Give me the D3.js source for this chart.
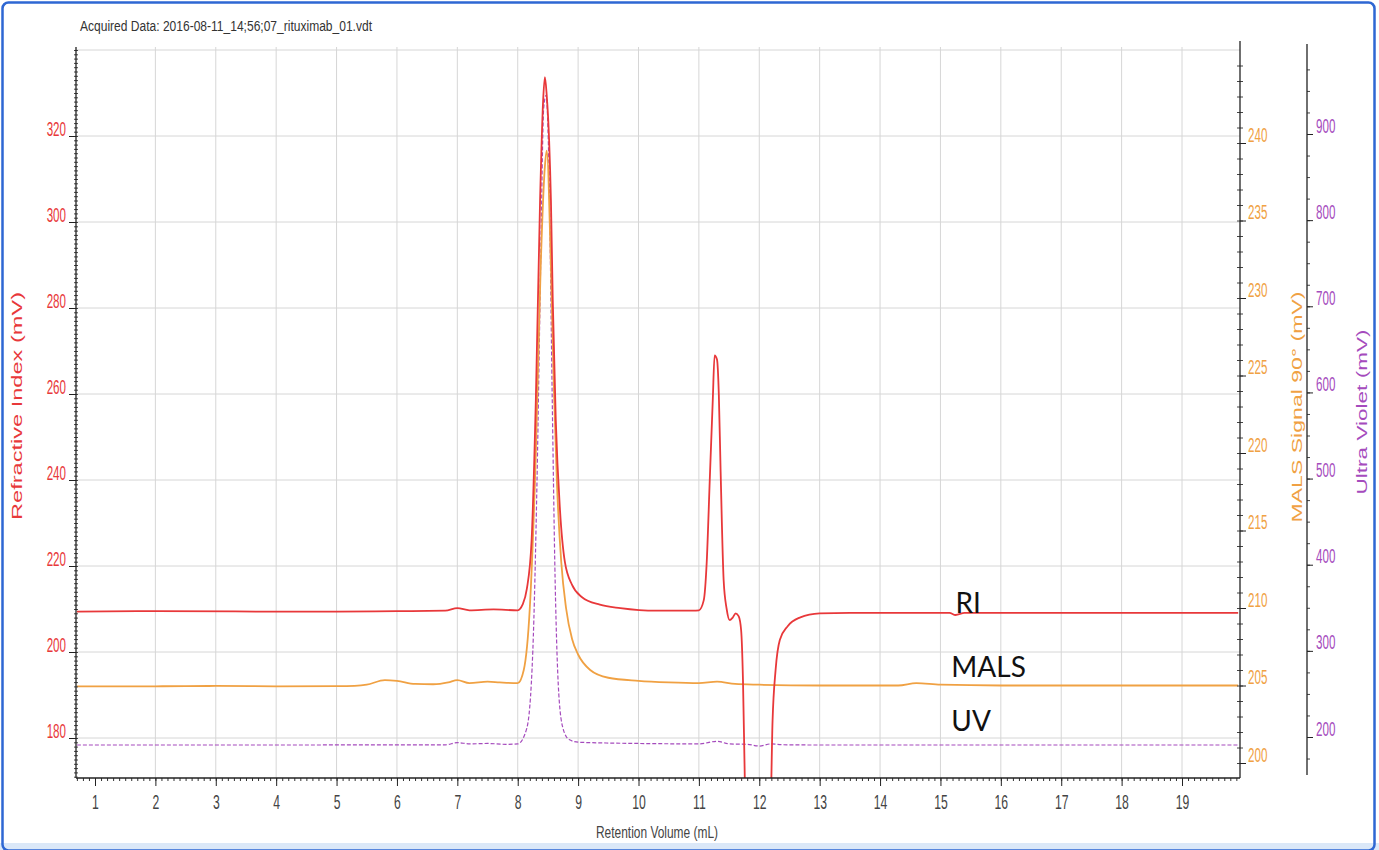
<!DOCTYPE html>
<html><head><meta charset="utf-8">
<script src="https://cdn.jsdelivr.net/npm/d3@7"></script>
<style>
body{margin:0;background:#fff;}
svg{display:block;}
</style></head>
<body>
<svg id="chart" width="1379" height="850"></svg>
<script>
// ---------- DATA ----------
const chartTitle = "Acquired Data: 2016-08-11_14;56;07_rituximab_01.vdt";
const xTicks = [1,2,3,4,5,6,7,8,9,10,11,12,13,14,15,16,17,18,19];
const riTicks = [180,200,220,240,260,280,300,320];
const malsTicks = [200,205,210,215,220,225,230,235,240];
const uvTicks = [200,300,400,500,600,700,800,900];

const riVolume = [0.7,2,4,5,6,6.8,7.0,7.2,7.6,8.0,8.08,8.15,8.23,8.3,8.37,8.42,8.45,8.48,8.52,8.55,8.58,8.63,8.7,8.78,8.9,9.06,9.36,9.7,10.3,10.9,11.0,11.08,11.13,11.18,11.23,11.26,11.3,11.33,11.36,11.41,11.46,11.51,11.56,11.61,11.66,11.7,11.73,11.76,11.8,12.0,12.18,12.22,12.27,12.34,12.47,12.67,13.0,13.5,14.5,15.15,15.25,15.4,17,19.93];
const riSignal = [209.4,209.5,209.4,209.4,209.5,209.6,210.2,209.7,209.9,209.7,211,214.6,226,258.6,305,328,333.7,329.5,319,305,282,254,233,221,215.6,212.8,211,210.2,209.6,209.6,209.7,212,221,240,258.6,269,268,260,242,216.7,210,207.4,208,209,208.3,205,193.5,170.7,150,150,160,184,195.8,202.8,206,208,209,209.1,209.1,209.1,208.6,209.1,209.1,209.1];

const malsVolume = [0.7,2,3,4,5,5.3,5.5,5.8,6.0,6.3,6.6,6.85,7.0,7.2,7.5,7.7,8.0,8.1,8.2,8.3,8.38,8.45,8.48,8.55,8.6,8.65,8.72,8.8,8.9,9.0,9.2,9.5,10,10.5,11.0,11.3,11.6,12,13,14.3,14.6,15,16,17,18,19.93];
const malsSignal = [204.95,204.95,204.97,204.95,204.96,204.98,205.05,205.35,205.3,205.1,205.08,205.2,205.35,205.15,205.25,205.2,205.15,206,210,220,232,238.5,239.5,232,224,218,213,210,208,207,206,205.5,205.3,205.2,205.15,205.25,205.1,205.05,205.0,205.0,205.15,205.05,205.0,205.0,205.0,205.0];

const uvVolume = [0.7,3,6.8,7.0,7.2,7.5,7.8,8.0,8.15,8.25,8.32,8.38,8.43,8.47,8.52,8.57,8.62,8.68,8.75,8.85,9.0,9.5,10,11.0,11.3,11.5,11.8,12.0,12.2,12.4,13,16,19.93];
const uvSignal = [190.7,190.7,190.9,193.5,192,192.5,191.5,192,210,300,500,750,930,945,850,600,380,250,210,197,194,193,192.5,192,195,192,191.5,189.5,192,191,190.7,190.7,190.7];

const seriesLabels = ["RI","MALS","UV"];

// ---------- LAYOUT ----------
const svg = d3.select("#chart");
const plot = {left:76, right:1240, top:47, bottom:778};
const uvAxisX = 1307;

const x = d3.scaleLinear().domain([1,19]).range([95,1182]);
const yRI = d3.scaleLinear().domain([180,320]).range([738,136]);
const yMALS = d3.scaleLinear().domain([200,240]).range([763,143]);
const yUV = d3.scaleLinear().domain([200,900]).range([737,134]);

const colRI = "#e8383a", colMALS = "#f0a143", colUV = "#a54bbd";
const sans = "'Liberation Sans',Arial,sans-serif";

function squeeze(sel, f){
  sel.each(function(){
    const w = this.getComputedTextLength();
    d3.select(this).attr("textLength", w*f).attr("lengthAdjust","spacingAndGlyphs");
  });
}
function fitTo(sel, len){
  sel.attr("textLength", len).attr("lengthAdjust","spacingAndGlyphs");
}

// frame
svg.append("rect").attr("x",0).attr("y",843).attr("width",1379).attr("height",7).attr("fill","#dbe8f8");
svg.append("rect").attr("x",2.5).attr("y",2.5).attr("width",1372).attr("height",848).attr("rx",6)
  .attr("fill","none").attr("stroke","#2e67d3").attr("stroke-width",2.5);

// title
svg.append("text").attr("x",80).attr("y",31).attr("font-family",sans)
  .attr("font-size",14).attr("fill","#333").text(chartTitle).call(fitTo,292);

// gridlines
const grid = svg.append("g").attr("stroke","#d6d6d6").attr("stroke-width",1);
xTicks.slice(1).forEach(v=>{
  grid.append("line").attr("x1",x(v)).attr("x2",x(v)).attr("y1",plot.top).attr("y2",plot.bottom);
});
[180,200,220,240,260,280,300,320,340].forEach(v=>{
  grid.append("line").attr("x1",plot.left).attr("x2",plot.right).attr("y1",yRI(v)).attr("y2",yRI(v));
});

// clip
svg.append("clipPath").attr("id","clip").append("rect")
  .attr("x",plot.left).attr("y",plot.top).attr("width",plot.right-plot.left).attr("height",plot.bottom-plot.top);

const lineGen = (ys) => d3.line().x(d=>x(d[0])).y(d=>ys(d[1])).curve(d3.curveMonotoneX);
const g = svg.append("g").attr("clip-path","url(#clip)");

g.append("path").datum(d3.zip(uvVolume,uvSignal)).attr("d",lineGen(yUV))
  .attr("fill","none").attr("stroke",colUV).attr("stroke-width",1.2).attr("stroke-dasharray","4,2");
g.append("path").datum(d3.zip(malsVolume,malsSignal)).attr("d",lineGen(yMALS))
  .attr("fill","none").attr("stroke",colMALS).attr("stroke-width",1.8);
g.append("path").datum(d3.zip(riVolume,riSignal)).attr("d",lineGen(yRI))
  .attr("fill","none").attr("stroke",colRI).attr("stroke-width",1.8);

// ---------- AXES ----------
function styleAxis(sel){ sel.select(".domain").attr("stroke","#222").attr("stroke-width",1.3); sel.selectAll(".tick line").attr("stroke","#222"); }

// X axis
const xMinor = d3.range(0.7,19.95,0.1).map(v=>+v.toFixed(2));
svg.append("g").attr("transform",`translate(0,${plot.bottom})`)
  .call(d3.axisBottom(x).tickValues(xMinor).tickSize(3).tickFormat("").tickSizeOuter(0))
  .call(s=>{s.select(".domain").remove(); s.selectAll(".tick line").attr("stroke","#333");});
const xAx = svg.append("g").attr("transform",`translate(0,${plot.bottom})`)
  .call(d3.axisBottom(x).tickValues(xTicks).tickSize(8).tickSizeOuter(0).tickPadding(8))
  .call(s=>s.select(".domain").attr("d",`M${plot.left},0H${plot.right}`));
styleAxis(xAx);
xAx.selectAll("text").attr("font-family",sans).attr("font-size",21).attr("fill","#444").call(squeeze,0.58);

svg.append("text").attr("x",657).attr("y",838).attr("text-anchor","middle").attr("font-family",sans)
  .attr("font-size",16).attr("fill","#444").text("Retention Volume (mL)").call(fitTo,122);

// Left RI axis
const riMinor = d3.range(171,341,1);
svg.append("g").attr("transform",`translate(${plot.left},0)`)
  .call(d3.axisLeft(yRI).tickValues(riMinor).tickSize(2).tickFormat("").tickSizeOuter(0))
  .call(s=>{s.select(".domain").remove(); s.selectAll(".tick line").attr("stroke","#444").attr("x2",2).attr("x1",-2);});
const riAx = svg.append("g").attr("transform",`translate(${plot.left},0)`)
  .call(d3.axisLeft(yRI).tickValues(riTicks).tickSize(7).tickSizeOuter(0).tickPadding(3))
  .call(s=>s.select(".domain").attr("d",`M0,${plot.top}V${plot.bottom}`));
styleAxis(riAx);
riAx.selectAll("text").attr("font-family",sans).attr("font-size",20).attr("fill",colRI).attr("dy","-0.05em").call(squeeze,0.58);

svg.append("text").attr("transform","translate(22,406) rotate(-90)").attr("text-anchor","middle")
  .attr("font-family",sans).attr("font-size",15).attr("fill",colRI)
  .text("Refractive Index (mV)").call(fitTo,228);

// Right MALS axis
const malsMinor = d3.range(199,246,1);
svg.append("g").attr("transform",`translate(${plot.right},0)`)
  .call(d3.axisRight(yMALS).tickValues(malsMinor.filter(v=>yMALS(v)>=plot.top && yMALS(v)<=plot.bottom)).tickSize(3).tickFormat("").tickSizeOuter(0))
  .call(s=>{s.select(".domain").remove(); s.selectAll(".tick line").attr("stroke","#444").attr("x1",-3);});
const malsAx = svg.append("g").attr("transform",`translate(${plot.right},0)`)
  .call(d3.axisRight(yMALS).tickValues(malsTicks).tickSize(6).tickSizeOuter(0).tickPadding(2))
  .call(s=>s.select(".domain").attr("d",`M0,${plot.top-6}V${plot.bottom}`));
styleAxis(malsAx);
malsAx.selectAll("text").attr("font-family",sans).attr("font-size",20).attr("fill",colMALS).attr("dy","-0.1em").call(squeeze,0.58);

svg.append("text").attr("transform","translate(1302,407) rotate(-90)").attr("text-anchor","middle")
  .attr("font-family",sans).attr("font-size",15).attr("fill",colMALS)
  .text("MALS Signal 90° (mV)").call(fitTo,231);

// UV axis
const uvMinor = d3.range(150,1000,25);
svg.append("g").attr("transform",`translate(${uvAxisX},0)`)
  .call(d3.axisRight(yUV).tickValues(uvMinor.filter(v=>yUV(v)>=plot.top-2 && yUV(v)<=775)).tickSize(3).tickFormat("").tickSizeOuter(0))
  .call(s=>{s.select(".domain").remove(); s.selectAll(".tick line").attr("stroke","#444");});
const uvAx = svg.append("g").attr("transform",`translate(${uvAxisX},0)`)
  .call(d3.axisRight(yUV).tickValues(uvTicks).tickSize(6).tickSizeOuter(0).tickPadding(3))
  .call(s=>s.select(".domain").attr("d",`M0,${plot.top-3}V775`));
styleAxis(uvAx);
uvAx.selectAll("text").attr("font-family",sans).attr("font-size",20).attr("fill",colUV).attr("dy","-0.1em").call(squeeze,0.58);

svg.append("text").attr("transform","translate(1367,412) rotate(-90)").attr("text-anchor","middle")
  .attr("font-family",sans).attr("font-size",15).attr("fill",colUV)
  .text("Ultra Violet (mV)").call(fitTo,165);

// series labels
const lbl = svg.append("g").attr("font-family","Lato,'Open Sans',sans-serif").attr("font-size",28).attr("fill","#111");
lbl.append("text").attr("x",x(15.25)).attr("y",yRI(209.1)).text(seriesLabels[0]);
lbl.append("text").attr("x",x(15.18)).attr("y",yMALS(205.55)).text(seriesLabels[1]);
lbl.append("text").attr("x",x(15.18)).attr("y",yUV(207)).text(seriesLabels[2]);
</script>
</body></html>
